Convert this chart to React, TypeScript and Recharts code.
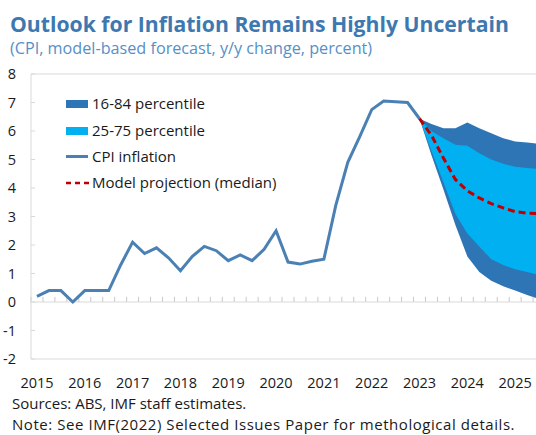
import React from 'react';
import { ComposedChart, Area, Line, Bar, XAxis, YAxis, ReferenceLine } from 'recharts';

// ---------- data ----------
const years = ['2015', '2016', '2017', '2018', '2019', '2020', '2021', '2022', '2023', '2024', '2025'];
const quarterSuffixes = ['Q1', 'Q2', 'Q3', 'Q4'];
const yTicks = [-2, -1, 0, 1, 2, 3, 4, 5, 6, 7, 8];

// CPI inflation, 2015Q1 .. 2023Q1
const cpiInflation = [
  0.2, 0.4, 0.4, 0.0,
  0.4, 0.4, 0.4, 1.3,
  2.1, 1.7, 1.9, 1.55,
  1.1, 1.6, 1.95, 1.8,
  1.45, 1.65, 1.45, 1.85,
  2.5, 1.4, 1.33, 1.43,
  1.5, 3.4, 4.9, 5.8,
  6.75, 7.05, 7.03, 7.0,
  6.43,
];

// Projection fan, 2023Q1 .. 2025Q4
const projectionStart = '2023Q1';
const pct16 = [6.43, 5.15, 3.95, 2.7, 1.6, 1.05, 0.75, 0.55, 0.4, 0.25, 0.1, 0.0];
const pct25 = [6.43, 5.3, 4.2, 3.1, 2.4, 1.95, 1.5, 1.3, 1.15, 1.05, 0.95, 0.9];
const median = [6.43, 5.85, 5.05, 4.3, 3.9, 3.65, 3.45, 3.3, 3.17, 3.12, 3.1, 3.1];
const pct75 = [6.43, 6.0, 5.75, 5.52, 5.48, 5.22, 5.0, 4.85, 4.75, 4.7, 4.67, 4.65];
const pct84 = [6.43, 6.25, 6.1, 6.1, 6.3, 6.1, 5.92, 5.75, 5.63, 5.6, 5.55, 5.5];

const legendLabels = ['16-84 percentile', '25-75 percentile', 'CPI inflation', 'Model projection (median)'];

// ---------- derived table ----------
const categories = years.flatMap((y) => quarterSuffixes.map((q) => y + q));
const yearTicks = years.map((y) => y + 'Q1');
const fanStart = categories.indexOf(projectionStart);
const data = categories.map((q, i) => {
  const j = i - fanStart;
  const inFan = j >= 0 && j < median.length;
  return {
    q,
    cpi: i < cpiInflation.length ? cpiInflation[i] : null,
    outer: inFan ? [pct16[j], pct84[j]] : null,
    inner: inFan ? [pct25[j], pct75[j]] : null,
    median: inFan ? median[j] : null,
  };
});

// ---------- styles ----------
const FONT = '"Open Sans", "Noto Sans", sans-serif';
const C_DARK = '#2e75b6';
const C_LIGHT = '#00b0f0';
const C_CPI = '#4a80b4';
const C_RED = '#c00000';
const C_GRID = '#d9d9d9';
const TICK_LEN = 0.18; // length of the small category tick marks on the zero line (data units)

const YTick = (props: any) => {
  const { x, y, payload } = props;
  return (
    <g>
      <text x={x - 15} y={y} dy={5} textAnchor="end" fontSize={14.5} fontFamily={FONT} fill="#1a1a1a">
        {payload.value}
      </text>
      <line x1={x} x2={x + 4} y1={y} y2={y} stroke={C_GRID} />
    </g>
  );
};

const XTick = (props: any) => {
  const { x, y, payload } = props;
  return (
    <text x={x} y={y} dy={29} textAnchor="middle" fontSize={14.5} fontFamily={FONT} fill="#1a1a1a">
      {String(payload.value).slice(0, 4)}
    </text>
  );
};

const TickShape = (props: any) => {
  const { x, y, height } = props;
  if (x == null || y == null) return null;
  return <line x1={x} x2={x} y1={y} y2={y + height} stroke="#c8c8c8" />;
};

const LEG_FS = 15;

const Legend = () => {
  const rowBaselines = [109, 136, 162, 188];
  return (
    <>
      {legendLabels.map((label, i) => {
        const base = rowBaselines[i];
        const mid = base - 5.5;
        let swatch: React.ReactNode = null;
        if (i === 0 || i === 1) {
          swatch = (
            <div
              style={{
                position: 'absolute',
                left: 66,
                top: mid - 4,
                width: 22,
                height: 8,
                background: i === 0 ? C_DARK : C_LIGHT,
              }}
            />
          );
        } else if (i === 2) {
          swatch = (
            <div style={{ position: 'absolute', left: 66, top: mid - 1.3, width: 22, height: 2.6, background: C_CPI }} />
          );
        } else {
          swatch = (
            <svg style={{ position: 'absolute', left: 66, top: mid - 2 }} width={24} height={4}>
              <line x1={0} x2={24} y1={2} y2={2} stroke={C_RED} strokeWidth={2.6} strokeDasharray="5 4" />
            </svg>
          );
        }
        return (
          <React.Fragment key={label}>
            {swatch}
            <div
              style={{
                position: 'absolute',
                left: 92,
                top: base - 0.888 * LEG_FS,
                fontSize: LEG_FS,
                lineHeight: 1,
                whiteSpace: 'nowrap',
                color: '#1a1a1a',
              }}
            >
              {label}
            </div>
          </React.Fragment>
        );
      })}
    </>
  );
};

export default function App() {
  return (
    <div
      style={{
        position: 'absolute',
        left: 0,
        top: 0,
        width: 536,
        height: 435,
        overflow: 'hidden',
        background: '#fff',
        fontFamily: FONT,
      }}
    >
      <div
        style={{
          position: 'absolute',
          left: 10,
          top: 31.7 - 0.888 * 21.2,
          fontSize: 21.2,
          lineHeight: 1,
          fontWeight: 700,
          color: '#3d79b0',
          whiteSpace: 'nowrap',
        }}
      >
        Outlook for Inflation Remains Highly Uncertain
      </div>
      <div
        style={{
          position: 'absolute',
          left: 10,
          top: 54.5 - 0.888 * 16.2,
          fontSize: 16.2,
          lineHeight: 1,
          color: '#5590c8',
          whiteSpace: 'nowrap',
        }}
      >
        (CPI, model-based forecast, y/y change, percent)
      </div>

      <div style={{ position: 'absolute', left: 0, top: 0 }}>
        <ComposedChart
          width={557}
          height={435}
          data={data}
          margin={{ top: 74, right: 0, bottom: 46, left: 0 }}
          barCategoryGap={0}
          barGap={0}
        >
          <XAxis
            dataKey="q"
            scale="band"
            ticks={yearTicks}
            interval={0}
            axisLine={false}
            tickLine={false}
            tickSize={0}
            tickMargin={0}
            height={30}
            tick={<XTick />}
          />
          <YAxis
            type="number"
            domain={[-2, 8]}
            ticks={yTicks}
            interval={0}
            width={31}
            axisLine={{ stroke: C_GRID }}
            tickLine={false}
            tickSize={0}
            tickMargin={0}
            tick={<YTick />}
          />
          <ReferenceLine y={8} stroke={C_GRID} />
          <ReferenceLine y={-2} stroke={C_GRID} />
          <ReferenceLine y={0} stroke={C_GRID} />
          <Bar dataKey={() => TICK_LEN} shape={<TickShape />} isAnimationActive={false} />
          <Area
            type="linear"
            dataKey="outer"
            stroke="none"
            fill={C_DARK}
            fillOpacity={1}
            isAnimationActive={false}
          />
          <Area
            type="linear"
            dataKey="inner"
            stroke="none"
            fill={C_LIGHT}
            fillOpacity={1}
            isAnimationActive={false}
          />
          <Line
            type="linear"
            dataKey="cpi"
            stroke={C_CPI}
            strokeWidth={3}
            dot={false}
            isAnimationActive={false}
          />
          <Line
            type="linear"
            dataKey="median"
            stroke={C_RED}
            strokeWidth={3}
            strokeDasharray="7 4"
            dot={false}
            isAnimationActive={false}
          />
        </ComposedChart>
      </div>

      <Legend />

      <div
        style={{
          position: 'absolute',
          left: 12,
          top: 409 - 0.888 * 15,
          fontSize: 15,
          lineHeight: 1,
          color: '#1a1a1a',
          whiteSpace: 'nowrap',
        }}
      >
        Sources: ABS, IMF staff estimates.
      </div>
      <div
        style={{
          position: 'absolute',
          left: 12,
          top: 430 - 0.888 * 15,
          fontSize: 15,
          lineHeight: 1,
          letterSpacing: 0.55,
          color: '#1a1a1a',
          whiteSpace: 'nowrap',
        }}
      >
        Note: See IMF(2022) Selected Issues Paper for methological details.
      </div>
    </div>
  );
}
